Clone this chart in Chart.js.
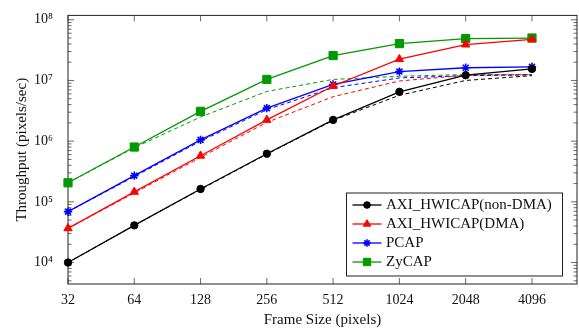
<!DOCTYPE html>
<html>
<head>
<meta charset="utf-8">
<script src="https://cdn.jsdelivr.net/npm/chart.js@4"></script>
<style>
  html, body { margin: 0; padding: 0; background: #fff; }
</style>
</head>
<body>
<canvas id="throughputChart" width="579" height="328"></canvas>
<script>
// frame sizes on the x axis
const frameSizes = [32, 64, 128, 256, 512, 1024, 2048, 4096];

// measured throughput (solid lines with markers)
const hwicapNonDma = [1.0e4, 4.1e4, 1.63e5, 6.2e5, 2.24e6, 6.5e6, 1.22e7, 1.55e7];
const hwicapDma    = [3.66e4, 1.46e5, 5.75e5, 2.24e6, 8.1e6, 2.24e7, 3.9e7, 4.75e7];
const pcap         = [6.9e4, 2.7e5, 1.05e6, 3.5e6, 8.6e6, 1.4e7, 1.62e7, 1.68e7];
const zycap        = [2.06e5, 8.0e5, 3.1e6, 1.04e7, 2.57e7, 4.05e7, 4.9e7, 5.0e7];

// dashed companion curves (same colours, no markers)
const hwicapNonDmaDashed = [1.0e4, 4.1e4, 1.6e5, 6.1e5, 2.2e6, 5.7e6, 1.0e7, 1.2e7];
const hwicapDmaDashed    = [3.66e4, 1.4e5, 5.4e5, 2.04e6, 5.4e6, 9.8e6, 1.22e7, 1.25e7];
const pcapDashed         = [6.9e4, 2.6e5, 1.0e6, 3.3e6, 7.6e6, 1.1e7, 1.2e7, 1.23e7];
const zycapDashed        = [2.06e5, 7.8e5, 2.5e6, 6.6e6, 1.04e7, 1.17e7, 1.25e7, 1.25e7];

// y tick labels
const yTickValues = [1e4, 1e5, 1e6, 1e7, 1e8];
const yTickLabels = ["10\u2074", "10\u2075", "10\u2076", "10\u2077", "10\u2078"];

const serif = "'Liberation Serif', 'Times New Roman', serif";

const toPoints = (arr) => frameSizes.map((f, i) => ({ x: f, y: arr[i] }));

const solid = (label, arr, color, style, radius) => ({
    label: label,
    data: toPoints(arr),
    borderColor: color,
    backgroundColor: color,
    borderWidth: 1.3,
    pointStyle: style,
    pointRadius: radius,
    pointBorderWidth: style === "star" ? 1.6 : 1,
    pointBorderColor: color,
    pointBackgroundColor: color,
    tension: 0,
    clip: false,
    inLegend: true
});

const dashed = (arr, color) => ({
    label: "",
    data: toPoints(arr),
    borderColor: color,
    borderWidth: 1,
    borderDash: [4, 3],
    pointRadius: 0,
    tension: 0,
    clip: false,
    inLegend: false
});

// inward ticks + frame, like pgfplots
const frameAndTicks = {
    id: "frameAndTicks",
    beforeDatasetsDraw(chart) {
        const { ctx, chartArea: a, scales: { x, y } } = chart;
        ctx.save();
        ctx.strokeStyle = "#444";
        ctx.lineWidth = 0.8;
        ctx.beginPath();
        frameSizes.forEach(v => {
            const px = x.getPixelForValue(v);
            ctx.moveTo(px, a.bottom); ctx.lineTo(px, a.bottom - 6);
            ctx.moveTo(px, a.top); ctx.lineTo(px, a.top + 6);
        });
        for (let e = 3; e <= 8; e++) {
            for (let m = 1; m <= 9; m++) {
                const v = m * Math.pow(10, e);
                if (v < y.min || v > y.max) continue;
                const py = y.getPixelForValue(v);
                const len = m === 1 ? 6 : 3.5;
                ctx.moveTo(a.left, py); ctx.lineTo(a.left + len, py);
                ctx.moveTo(a.right, py); ctx.lineTo(a.right - len, py);
            }
        }
        ctx.stroke();
        ctx.strokeStyle = "#222";
        ctx.lineWidth = 1;
        ctx.strokeRect(a.left, a.top, a.right - a.left, a.bottom - a.top);
        ctx.restore();
    }
};

// boxed legend in the lower right corner
const boxLegend = {
    id: "boxLegend",
    afterDatasetsDraw(chart) {
        const { ctx, chartArea: a } = chart;
        const items = chart.data.datasets.filter(d => d.inLegend);
        const w = 216, h = 83, rowH = 19;
        const x0 = a.right - 14.5 - w;
        const y0 = a.bottom - 8 - h;
        ctx.save();
        ctx.fillStyle = "#fff";
        ctx.fillRect(x0, y0, w, h);
        ctx.strokeStyle = "#222";
        ctx.lineWidth = 1;
        ctx.strokeRect(x0, y0, w, h);
        ctx.font = "15px " + serif;
        ctx.textBaseline = "middle";
        items.forEach((d, i) => {
            const cy = y0 + 12 + i * rowH;
            ctx.strokeStyle = d.borderColor;
            ctx.lineWidth = d.borderWidth;
            ctx.beginPath();
            ctx.moveTo(x0 + 6, cy);
            ctx.lineTo(x0 + 35, cy);
            ctx.stroke();
            ctx.fillStyle = d.borderColor;
            ctx.lineWidth = d.pointBorderWidth;
            if (Chart.helpers && Chart.helpers.drawPoint) {
                Chart.helpers.drawPoint(ctx, {
                    pointStyle: d.pointStyle,
                    radius: d.pointRadius * 0.9,
                    borderWidth: d.pointBorderWidth,
                    rotation: 0
                }, x0 + 20.5, cy);
            }
            ctx.fillStyle = "#111";
            ctx.fillText(d.label, x0 + 39.5, cy + 0.5);
        });
        ctx.restore();
    }
};

const ctx = document.getElementById("throughputChart").getContext("2d");
new Chart(ctx, {
    type: "line",
    data: {
        datasets: [
            solid("AXI_HWICAP(non-DMA)", hwicapNonDma, "#000000", "circle", 3.7),
            solid("AXI_HWICAP(DMA)", hwicapDma, "#ff0000", "triangle", 4.8),
            solid("PCAP", pcap, "#0000ff", "star", 4.2),
            solid("ZyCAP", zycap, "#009900", "rect", 5.8),
            dashed(hwicapNonDmaDashed, "#000000"),
            dashed(hwicapDmaDashed, "#ff0000"),
            dashed(pcapDashed, "#0000ff"),
            dashed(zycapDashed, "#009900")
        ]
    },
    options: {
        responsive: false,
        animation: false,
        devicePixelRatio: 1,
        layout: { autoPadding: false, padding: { top: 9, right: 2, left: 0, bottom: 0 } },
        plugins: {
            legend: { display: false },
            tooltip: { enabled: false }
        },
        scales: {
            x: {
                type: "logarithmic",
                min: 32,
                max: 6560,
                grid: { display: false },
                border: { display: false },
                afterBuildTicks: (s) => { s.ticks = frameSizes.map(v => ({ value: v })); },
                afterFit: (s) => { s.height = 44; s.paddingLeft = 0; s.paddingRight = 0; },
                ticks: {
                    autoSkip: false,
                    maxRotation: 0,
                    padding: 0,
                    color: "#111",
                    font: { family: serif, size: 14 },
                    callback: (v) => String(v)
                },
                title: {
                    display: true,
                    text: "Frame Size (pixels)",
                    color: "#111",
                    font: { family: serif, size: 15, lineHeight: 1 },
                    padding: { top: 0, bottom: 0 }
                }
            },
            y: {
                type: "logarithmic",
                min: 4430,
                max: 1.18e8,
                grid: { display: false },
                border: { display: false },
                afterBuildTicks: (s) => { s.ticks = yTickValues.map(v => ({ value: v })); },
                afterFit: (s) => { s.width = 68; },
                ticks: {
                    autoSkip: false,
                    padding: 7,
                    color: "#111",
                    font: { family: serif, size: 14 },
                    callback: (v, i) => yTickLabels[i]
                },
                title: {
                    display: true,
                    text: "Throughput (pixels/sec)",
                    color: "#111",
                    font: { family: serif, size: 15, lineHeight: 1 },
                    padding: { top: 15, bottom: 0 }
                }
            }
        }
    },
    plugins: [frameAndTicks, boxLegend]
});
</script>
</body>
</html>
